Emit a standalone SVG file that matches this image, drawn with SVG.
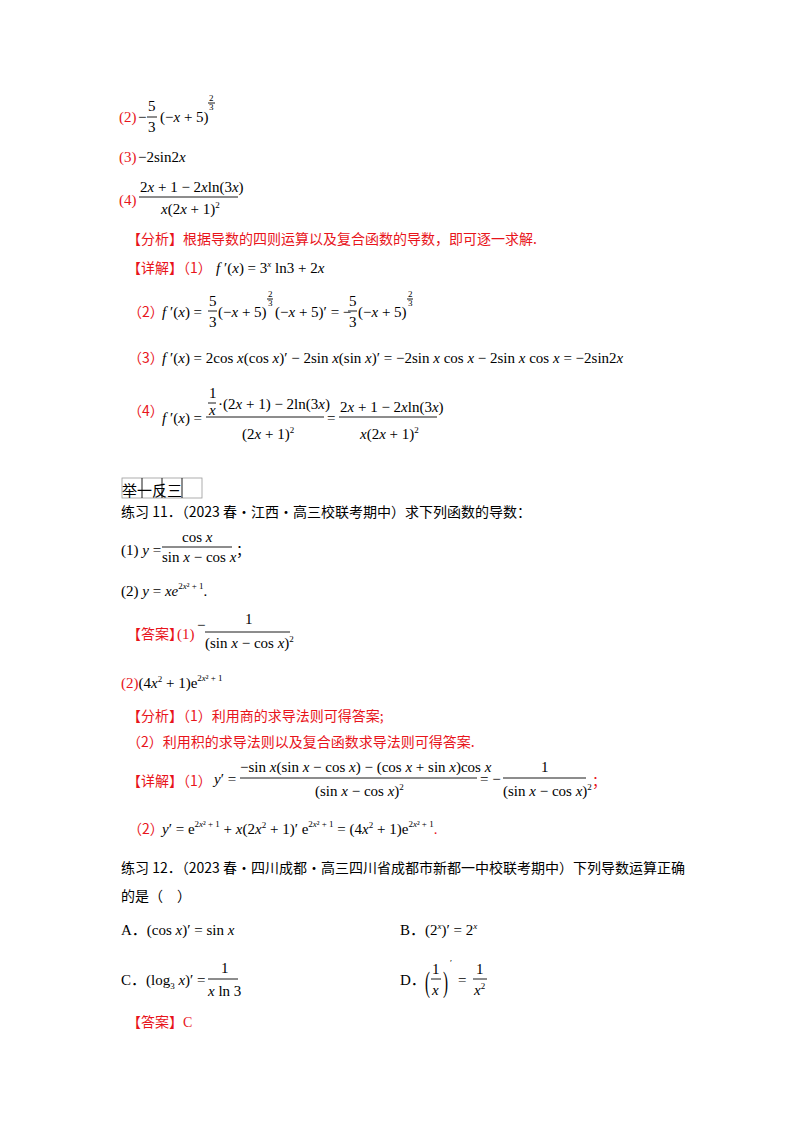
<svg xmlns="http://www.w3.org/2000/svg" width="800" height="1132" viewBox="0 0 800 1132">
<style>
text{font-family:"Liberation Serif","Noto Sans CJK SC",serif;font-size:15px;fill:#000}
.r{fill:#e8141b}
.s{font-size:9px}
.i{font-style:italic}
.cn{font-family:"Noto Sans CJK SC",sans-serif;font-size:14px}
line{stroke:#000;stroke-width:0.9}
</style>
<rect width="800" height="1132" fill="#fff"/>
<g id="ans-top">
<text x="119" y="122" class="r">(2)</text><text x="138" y="122">−</text>
<text x="148" y="111">5</text><line x1="147" y1="117" x2="157" y2="117"/><text x="148" y="132">3</text>
<text x="160" y="122">(−<tspan class="i">x</tspan> + 5)</text>
<text x="209" y="101" class="s">2</text><line x1="208" y1="103" x2="215" y2="103" stroke-width="0.5"/><text x="209" y="110" class="s">3</text>
<text x="119" y="162" class="r">(3)</text><text x="138" y="162" font-size="16">−2sin2<tspan class="i">x</tspan></text>
<text x="140" y="192">2<tspan class="i">x</tspan> + 1 − 2<tspan class="i">x</tspan>ln(3<tspan class="i">x</tspan>)</text>
<line x1="139" y1="197" x2="238" y2="197"/>
<text x="161" y="214"><tspan class="i">x</tspan>(2<tspan class="i">x</tspan> + 1)<tspan class="s" dy="-6">2</tspan></text>
<text x="119" y="205" class="r">(4)</text>
</g>
<g id="analysis1">
<text x="127" y="244" class="r cn">【分析】根据导数的四则运算以及复合函数的导数，即可逐一求解.</text>
</g>
<g id="detail1">
<text x="127" y="273" class="r cn">【详解】（1）</text>
<text x="216" y="273"><tspan class="i">f</tspan> ′(<tspan class="i">x</tspan>) = 3<tspan class="s i" dy="-6">x</tspan><tspan dy="6"> ln3 + 2</tspan><tspan class="i">x</tspan></text>
<text x="128" y="317" class="r cn">（2）</text>
<text x="162" y="317"><tspan class="i">f</tspan> ′(<tspan class="i">x</tspan>) =</text>
<text x="209" y="306">5</text><line x1="208" y1="311" x2="217" y2="311"/><text x="209" y="327">3</text>
<text x="218" y="317">(−<tspan class="i">x</tspan> + 5)</text>
<text x="268" y="297" class="s">2</text><line x1="267" y1="299" x2="273" y2="299" stroke-width="0.5"/><text x="268" y="306" class="s">3</text>
<text x="275" y="317">(−<tspan class="i">x</tspan> + 5)′ = −</text>
<text x="349" y="306">5</text><line x1="348" y1="311" x2="357" y2="311"/><text x="349" y="327">3</text>
<text x="358" y="317">(−<tspan class="i">x</tspan> + 5)</text>
<text x="408" y="297" class="s">2</text><line x1="407" y1="299" x2="413" y2="299" stroke-width="0.5"/><text x="408" y="306" class="s">3</text>
<text x="128" y="363" class="r cn">（3）</text>
<text x="162" y="363" font-size="16"><tspan class="i">f</tspan> ′(<tspan class="i">x</tspan>) = 2cos <tspan class="i">x</tspan>(cos <tspan class="i">x</tspan>)′ − 2sin <tspan class="i">x</tspan>(sin <tspan class="i">x</tspan>)′ = −2sin <tspan class="i">x</tspan> cos <tspan class="i">x</tspan> − 2sin <tspan class="i">x</tspan> cos <tspan class="i">x</tspan> = −2sin2<tspan class="i">x</tspan></text>
<text x="128" y="416" class="r cn">（4）</text>
<text x="162" y="423"><tspan class="i">f</tspan> ′(<tspan class="i">x</tspan>) =</text>
<text x="209" y="398">1</text><line x1="208" y1="403" x2="216" y2="403"/><text x="209" y="415" class="i">x</text>
<text x="218" y="409">·(2<tspan class="i">x</tspan> + 1) − 2ln(3<tspan class="i">x</tspan>)</text>
<line x1="206" y1="417" x2="324" y2="417"/>
<text x="242" y="439">(2<tspan class="i">x</tspan> + 1)<tspan class="s" dy="-6">2</tspan></text>
<text x="327" y="423">=</text>
<text x="340" y="412">2<tspan class="i">x</tspan> + 1 − 2<tspan class="i">x</tspan>ln(3<tspan class="i">x</tspan>)</text>
<line x1="339" y1="417" x2="437" y2="417"/>
<text x="360" y="439"><tspan class="i">x</tspan>(2<tspan class="i">x</tspan> + 1)<tspan class="s" dy="-6">2</tspan></text>
</g>
<g id="title-box">
<rect x="122" y="478" width="80" height="20" fill="none" stroke="#999" stroke-width="0.8"/>
<line x1="142" y1="478" x2="142" y2="498" stroke="#999"/><line x1="162" y1="478" x2="162" y2="498" stroke="#999"/><line x1="182" y1="478" x2="182" y2="498" stroke="#999"/>
<text x="122" y="496" font-size="20" font-family="Noto Sans CJK SC,sans-serif">举一反三</text>
</g>
<g id="ex11">
<text x="121" y="517" class="cn">练习 11．（2023 春·江西·高三校联考期中）求下列函数的导数：</text>
<text x="121" y="555">(1) <tspan class="i">y</tspan> =</text>
<text x="182" y="542">cos<tspan class="i"> x</tspan></text>
<line x1="162" y1="547" x2="232" y2="547"/>
<text x="162" y="562">sin<tspan class="i"> x</tspan> − cos<tspan class="i"> x</tspan></text>
<text x="236" y="555" class="cn">；</text>
<text x="121" y="596">(2) <tspan class="i">y</tspan> = <tspan class="i">xe</tspan><tspan class="s" dy="-7">2<tspan class="i">x</tspan>² + 1</tspan><tspan dy="7">.</tspan></text>
</g>
<g id="ans11">
<text x="127" y="639" class="r cn">【答案】</text><text x="177" y="639" class="r">(1)</text>
<text x="197" y="630" font-size="12">−</text>
<text x="245" y="624">1</text>
<line x1="205" y1="632" x2="290" y2="632"/>
<text x="205" y="648">(sin<tspan class="i"> x</tspan> − cos<tspan class="i"> x</tspan>)<tspan class="s" dy="-6">2</tspan></text>
<text x="121" y="688"><tspan class="r">(2)</tspan>(4<tspan class="i">x</tspan><tspan class="s" dy="-6">2</tspan><tspan dy="6"> + 1)e</tspan><tspan class="s" dy="-7">2<tspan class="i">x</tspan>² + 1</tspan></text>
<text x="127" y="721" class="r cn">【分析】（1）利用商的求导法则可得答案;</text>
<text x="127" y="747" class="r cn">（2）利用积的求导法则以及复合函数求导法则可得答案.</text>
<text x="127" y="786" class="r cn">【详解】（1）</text>
<text x="214" y="784"><tspan class="i">y</tspan>′ =</text>
<text x="240" y="772">−sin <tspan class="i">x</tspan>(sin <tspan class="i">x</tspan> − cos <tspan class="i">x</tspan>) − (cos <tspan class="i">x</tspan> + sin <tspan class="i">x</tspan>)cos <tspan class="i">x</tspan></text>
<line x1="240" y1="778" x2="477" y2="778"/>
<text x="315" y="796">(sin<tspan class="i"> x</tspan> − cos<tspan class="i"> x</tspan>)<tspan class="s" dy="-6">2</tspan></text>
<text x="480" y="784">= −</text>
<text x="541" y="772">1</text>
<line x1="503" y1="778" x2="586" y2="778"/>
<text x="503" y="796">(sin<tspan class="i"> x</tspan> − cos<tspan class="i"> x</tspan>)<tspan class="s" dy="-6">2</tspan></text>
<text x="592" y="786" class="r cn">；</text>
<text x="128" y="834" class="r cn">（2）</text>
<text x="162" y="834"><tspan class="i">y</tspan>′ = e<tspan class="s" dy="-7">2<tspan class="i">x</tspan>² + 1</tspan><tspan dy="7"> + </tspan><tspan class="i">x</tspan>(2<tspan class="i">x</tspan><tspan class="s" dy="-6">2</tspan><tspan dy="6"> + 1)′ e</tspan><tspan class="s" dy="-7">2<tspan class="i">x</tspan>² + 1</tspan><tspan dy="7"> = (4</tspan><tspan class="i">x</tspan><tspan class="s" dy="-6">2</tspan><tspan dy="6"> + 1)e</tspan><tspan class="s" dy="-7">2<tspan class="i">x</tspan>² + 1</tspan><tspan dy="7" class="r">.</tspan></text>
</g>
<g id="ex12">
<text x="121" y="873" class="cn">练习 12．（2023 春·四川成都·高三四川省成都市新都一中校联考期中）下列导数运算正确</text>
<text x="121" y="901" class="cn">的是（　）</text>
<text x="121" y="935">A．(cos <tspan class="i">x</tspan>)′ = sin <tspan class="i">x</tspan></text>
<text x="400" y="935">B．(2<tspan class="s i" dy="-6">x</tspan><tspan dy="6">)′ = 2</tspan><tspan class="s i" dy="-6">x</tspan></text>
<text x="121" y="985">C．(log<tspan class="s" dy="4">3</tspan><tspan dy="-4" class="i"> x</tspan>)′ =</text>
<text x="221" y="973">1</text><line x1="208" y1="979" x2="238" y2="979"/><text x="208" y="996"><tspan class="i">x</tspan> ln 3</text>
<text x="400" y="985">D．</text>
<text transform="translate(425,992) scale(1,2)" font-size="15">(</text>
<text transform="translate(443,992) scale(1,2)" font-size="15">)</text>
<text x="432" y="974">1</text><line x1="431" y1="979" x2="441" y2="979"/><text x="432" y="995" class="i">x</text>
<text x="450" y="966" class="s">′</text>
<text x="458" y="985">=</text>
<text x="476" y="974">1</text><line x1="473" y1="979" x2="487" y2="979"/><text x="474" y="995"><tspan class="i">x</tspan><tspan class="s" dy="-6">2</tspan></text>
<text x="127" y="1027" class="r cn">【答案】<tspan font-family="Liberation Serif">C</tspan></text>
</g>
</svg>
